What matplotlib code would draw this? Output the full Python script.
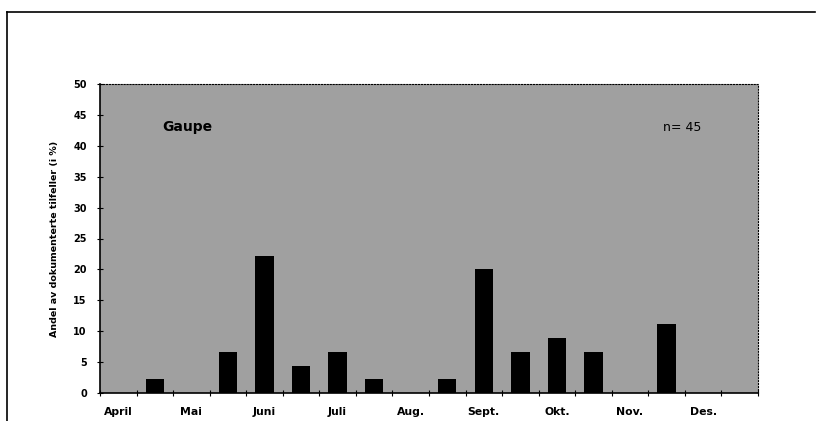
import matplotlib
matplotlib.use("Agg")
import matplotlib.pyplot as plt
from matplotlib.lines import Line2D

months = ["April", "Mai", "Juni", "Juli", "Aug.", "Sept.", "Okt.", "Nov.", "Des."]
# half-month bins (first half, second half) for April..December, percent of n=45
values = [0.0, 2.2, 0.0, 6.7, 22.2, 4.4, 6.7, 2.2, 0.0, 2.2,
          20.0, 6.7, 8.9, 6.7, 0.0, 11.1, 0.0, 0.0]
yticks = [0, 5, 10, 15, 20, 25, 30, 35, 40, 45, 50]
species = "Gaupe"
n_label = "n= 45"
ylabel = "Andel av dokumenterte tilfeller (i %)"

fig = plt.figure(figsize=(8.25, 4.21), dpi=100)
ax = fig.add_axes([100/825, 28/421, 658/825, 309/421])
ax.set_facecolor("#a0a0a0")

centers = [i + 0.5 for i in range(len(values))]
ax.bar(centers, values, width=0.5, color="black", zorder=3)

ax.set_xlim(0, len(values))
ax.set_ylim(0, 50)
ax.set_yticks(yticks)
ax.set_yticklabels([str(t) for t in yticks], fontsize=7, fontweight="bold")
ax.set_xticks(range(len(values) + 1))
ax.set_xticklabels([])
ax.tick_params(axis="y", direction="inout", length=5, width=0.8, pad=7)
ax.tick_params(axis="x", direction="inout", length=4, width=0.8)
for i, m in enumerate(months):
    ax.text(2 * i + 0.5, -2.3, m, ha="center", va="top", fontsize=7.8,
            fontweight="bold", transform=ax.transData)

for s in ["left", "bottom"]:
    ax.spines[s].set_linewidth(1.2)
for s in ["top", "right"]:
    ax.spines[s].set_linewidth(0.8)
    ax.spines[s].set_linestyle(":")

ax.set_ylabel(ylabel, fontsize=6.8, fontweight="bold", labelpad=10)

ax.text(1.7, 43, species, fontsize=10, fontweight="bold", va="center", ha="left")
ax.text(15.4, 43, n_label, fontsize=9, va="center", ha="left")

# outer frame lines
fig.add_artist(Line2D([7/825, 815/825], [1 - 12/421, 1 - 12/421], color="black", lw=1.2))
fig.add_artist(Line2D([7/825, 7/825], [1 - 12/421, 0], color="black", lw=1.2))

fig.savefig("out.png", dpi=100)
